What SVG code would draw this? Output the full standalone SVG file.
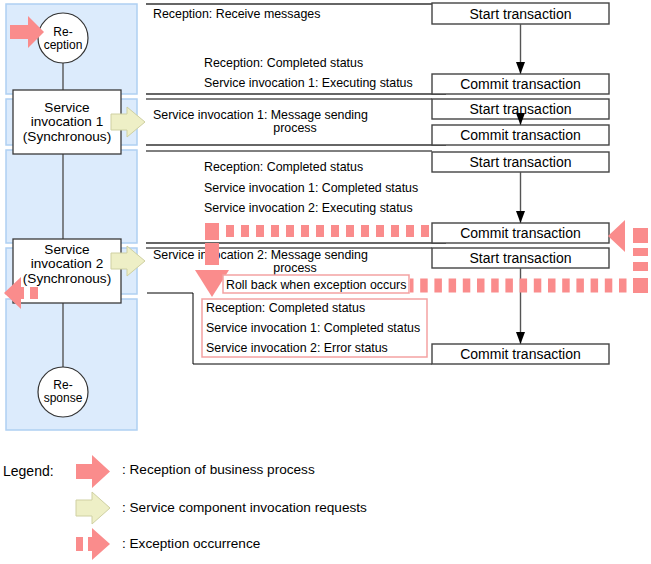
<svg xmlns="http://www.w3.org/2000/svg" width="651" height="564" viewBox="0 0 651 564">
<defs>
<style>
.t{font-family:"Liberation Sans",Arial,sans-serif;font-size:12.4px;fill:#000}
.tn{font-family:"Liberation Sans",Arial,sans-serif;font-size:14px;fill:#000}
.tb{font-family:"Liberation Sans",Arial,sans-serif;font-size:13.6px;fill:#000}
.tl{font-family:"Liberation Sans",Arial,sans-serif;font-size:13.6px;fill:#000}
.tc{font-family:"Liberation Sans",Arial,sans-serif;font-size:12px;fill:#000}
.panel{fill:#DCEBFC;stroke:#AFD0F2;stroke-width:1.5}
.box{fill:#fff;stroke:#3a3a3a;stroke-width:1.3}
.tx{fill:#fff;stroke:#444;stroke-width:1.4}
.pink{fill:#fff;stroke:#F4A2A2;stroke-width:1.5}
.lg{stroke:#666;stroke-width:2;fill:none}
.lb{stroke:#000;stroke-width:1;fill:none}
.vl{stroke:#555;stroke-width:1.4;fill:none}
.red{fill:#FA8C8C}
.yel{fill:#EEEFC6;stroke:#CFD0A2;stroke-width:1}
.dash{stroke:#FA8C8C;fill:none}
</style>
<marker id="ah" markerUnits="userSpaceOnUse" markerWidth="12" markerHeight="10" refX="12" refY="4.5" orient="auto">
<path d="M0,0 L12,4.5 L0,9 z" fill="#000"/>
</marker>
</defs>
<rect width="651" height="564" fill="#fff"/>

<g id="panels">
<rect class="panel" x="6" y="4" width="131" height="90"/>
<rect class="panel" x="6" y="99" width="131" height="46"/>
<rect class="panel" x="6" y="150" width="131" height="93"/>
<rect class="panel" x="6" y="248" width="131" height="46"/>
<rect class="panel" x="6" y="299" width="131" height="131"/>
</g>

<g id="connectors">
<line class="vl" x1="63" y1="63" x2="63" y2="90"/>
<line class="vl" x1="63" y1="154" x2="63" y2="239"/>
<line class="vl" x1="63" y1="303" x2="63" y2="367"/>
<line class="lg" x1="146" y1="4" x2="432" y2="4"/>
<line class="lg" x1="146" y1="94" x2="446" y2="94"/>
<line class="lb" x1="146" y1="99" x2="432" y2="99"/>
<line class="lg" x1="146" y1="145" x2="446" y2="145"/>
<line class="lb" x1="146" y1="151" x2="432" y2="151"/>
<line class="lg" x1="146" y1="243" x2="446" y2="243"/>
<line class="lb" x1="146" y1="248" x2="432" y2="248"/>
<polyline class="lb" stroke-width="1.3" points="147,293 193,293 193,364 432,364"/>
</g>

<g id="tx-boxes">
<g id="tx1"><rect class="tx" x="432" y="3" width="177" height="21"/><text class="tn" x="520.5" y="18.5" text-anchor="middle">Start transaction</text></g>
<g id="tx2"><rect class="tx" x="432" y="74" width="177" height="20"/><text class="tn" x="520.5" y="89" text-anchor="middle">Commit transaction</text></g>
<g id="tx3"><rect class="tx" x="432" y="99" width="177" height="20"/><text class="tn" x="520.5" y="114" text-anchor="middle">Start transaction</text></g>
<g id="tx4"><rect class="tx" x="432" y="125" width="177" height="20"/><text class="tn" x="520.5" y="140" text-anchor="middle">Commit transaction</text></g>
<g id="tx5"><rect class="tx" x="432" y="152" width="177" height="20"/><text class="tn" x="520.5" y="167" text-anchor="middle">Start transaction</text></g>
<g id="tx6"><rect class="tx" x="432" y="223" width="177" height="20"/><text class="tn" x="520.5" y="238" text-anchor="middle">Commit transaction</text></g>
<g id="tx7"><rect class="tx" x="432" y="248" width="177" height="20"/><text class="tn" x="520.5" y="263" text-anchor="middle">Start transaction</text></g>
<g id="tx8"><rect class="tx" x="432" y="344" width="177" height="20"/><text class="tn" x="520.5" y="359" text-anchor="middle">Commit transaction</text></g>
</g>

<g id="tx-arrows">
<line class="vl" x1="520.5" y1="24" x2="520.5" y2="74" marker-end="url(#ah)"/>
<line class="vl" x1="520.5" y1="119" x2="520.5" y2="125" marker-end="url(#ah)"/>
<line class="vl" x1="520.5" y1="172" x2="520.5" y2="223" marker-end="url(#ah)"/>
<line class="vl" x1="520.5" y1="268" x2="520.5" y2="344" marker-end="url(#ah)"/>
</g>

<g id="labels">
<text class="t" x="153" y="18">Reception: Receive messages</text>
<text class="t" x="204" y="67">Reception: Completed status</text>
<text class="t" x="204" y="87">Service invocation 1: Executing status</text>
<text class="t" x="153" y="119">Service invocation 1: Message sending</text>
<text class="t" x="295" y="132" text-anchor="middle">process</text>
<text class="t" x="204" y="171">Reception: Completed status</text>
<text class="t" x="204" y="192">Service invocation 1: Completed status</text>
<text class="t" x="204" y="212">Service invocation 2: Executing status</text>
<text class="t" x="153" y="259">Service invocation 2: Message sending</text>
<text class="t" x="295" y="272" text-anchor="middle">process</text>
</g>

<g id="exception-paths">
<line class="dash" x1="226" y1="231" x2="431" y2="231" stroke-width="12" stroke-dasharray="8 7"/>
<rect class="red" x="205" y="223" width="14" height="17"/>
<rect class="red" x="205" y="243" width="14" height="22"/>
<polygon class="red" points="195,270 229,270 212,297"/>
<line class="dash" x1="626.5" y1="285.5" x2="410" y2="285.5" stroke-width="14" stroke-dasharray="7.5 6.7"/>
<rect class="red" x="633" y="278" width="15" height="15"/>
<rect class="red" x="633" y="262" width="15" height="9"/>
<rect class="red" x="633" y="248" width="15" height="8"/>
<rect class="red" x="633" y="228" width="15" height="15"/>
<polygon class="red" points="608,236 625,220 625,252"/>
</g>

<g id="rollback">
<rect class="pink" x="223" y="275" width="186" height="18"/>
<text class="t" x="226" y="288.5">Roll back when exception occurs</text>
</g>

<g id="error-status">
<rect class="pink" x="202" y="299" width="225" height="58"/>
<text class="t" x="206" y="312">Reception: Completed status</text>
<text class="t" x="206" y="332">Service invocation 1: Completed status</text>
<text class="t" x="206" y="352">Service invocation 2: Error status</text>
</g>

<g id="reception">
<circle cx="63" cy="38" r="25" fill="#fff" stroke="#333" stroke-width="1.2"/>
<text class="tc" x="63" y="36" text-anchor="middle">Re-</text>
<text class="tc" x="63" y="49" text-anchor="middle">ception</text>
<polygon class="red" points="10,25 28,25 28,16 44,32 28,48 28,39 10,39"/>
</g>

<g id="svc1">
<rect class="box" x="13" y="90" width="108" height="64"/>
<text class="tb" x="67" y="111.5" text-anchor="middle">Service</text>
<text class="tb" x="67" y="126" text-anchor="middle">invocation 1</text>
<text class="tb" x="67" y="140.5" text-anchor="middle">(Synchronous)</text>
<polygon class="yel" points="111,114 127,114 127,107 145,122 127,137 127,130 111,130"/>
</g>

<g id="svc2">
<rect class="box" x="13" y="239" width="108" height="64"/>
<text class="tb" x="67" y="253.5" text-anchor="middle">Service</text>
<text class="tb" x="67" y="268" text-anchor="middle">invocation 2</text>
<text class="tb" x="67" y="282.5" text-anchor="middle">(Synchronous)</text>
<polygon class="yel" points="111,253 127,253 127,246 145,261 127,276 127,269 111,269"/>
<polygon class="red" points="4,293 21,277 21,287 24,287 24,299 21,299 21,309"/>
<rect class="red" x="30" y="287" width="8" height="12"/>
</g>

<g id="response">
<circle cx="63" cy="392" r="25" fill="#fff" stroke="#333" stroke-width="1.2"/>
<text class="tc" x="63" y="389" text-anchor="middle">Re-</text>
<text class="tc" x="63" y="402" text-anchor="middle">sponse</text>
</g>

<g id="legend">
<text class="tn" x="3" y="476">Legend:</text>
<polygon class="red" points="76,464 92,464 92,455 110,471.5 92,488 92,479 76,479"/>
<text class="tl" x="122" y="474">: Reception of business process</text>
<polygon class="yel" points="76,500 92,500 92,492 110,508 92,524 92,516 76,516"/>
<text class="tl" x="122" y="512">: Service component invocation requests</text>
<rect class="red" x="76" y="537" width="7" height="14"/>
<polygon class="red" points="88,537 92,537 92,528 110,544 92,560 92,551 88,551"/>
<text class="tl" x="122" y="548">: Exception occurrence</text>
</g>
</svg>
